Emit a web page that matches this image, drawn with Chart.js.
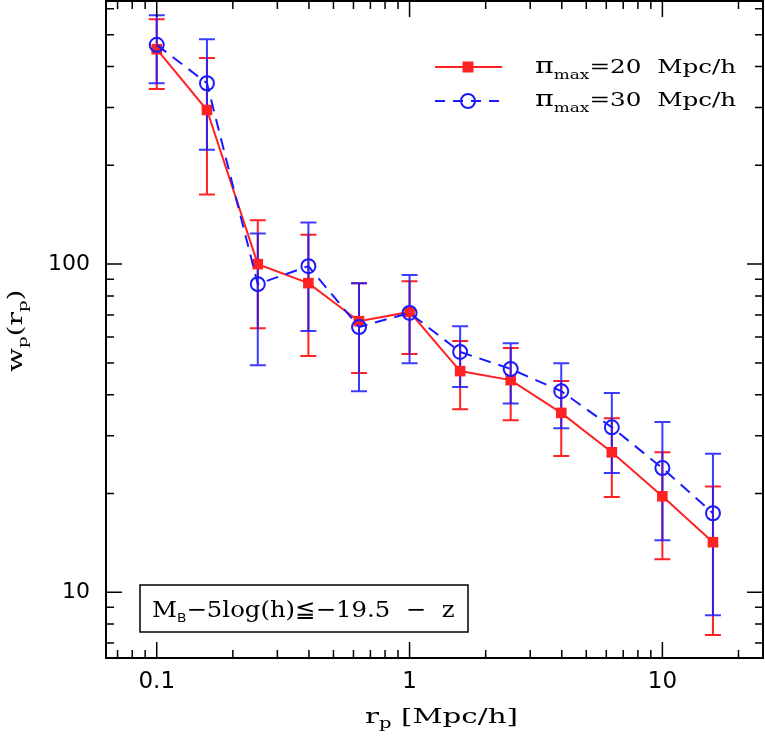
<!DOCTYPE html>
<html>
<head>
<meta charset="utf-8">
<title>w_p(r_p)</title>
<script src="https://cdn.jsdelivr.net/npm/chart.js@4/dist/chart.umd.min.js"></script>
<style>
  html, body { margin: 0; padding: 0; background: #fff; }
  #wrap { position: relative; width: 765px; height: 736px; }
  #chart { position: absolute; left: 0; top: 0; }
  #labels { position: absolute; left: 0; top: 0; pointer-events: none; }
  #labels text { white-space: pre; fill: #000; }
</style>
</head>
<body>
<div id="wrap">
  <canvas id="chart" width="765" height="736"></canvas>
  <svg id="labels" width="765" height="736" xmlns="http://www.w3.org/2000/svg">
    <!-- legend -->
    <text font-family="DejaVu Serif" font-size="19" transform="translate(535,73) scale(1.3,1)"><tspan font-size="22">π</tspan><tspan font-size="13" dy="6">max</tspan><tspan dy="-6">=20  Mpc/h</tspan></text>
    <text font-family="DejaVu Serif" font-size="19" transform="translate(535,106) scale(1.3,1)"><tspan font-size="22">π</tspan><tspan font-size="13" dy="6">max</tspan><tspan dy="-6">=30  Mpc/h</tspan></text>
    <!-- axis titles -->
    <text font-family="DejaVu Serif" font-size="21" transform="translate(365,723) scale(1.4,1)">r<tspan font-size="14" dy="5">p</tspan><tspan dy="-5"> [Mpc/h]</tspan></text>
    <text font-family="DejaVu Serif" font-size="20" transform="translate(22,372) rotate(-90) scale(1.4,1)">w<tspan font-size="13" dy="5">p</tspan><tspan dy="-5">(r</tspan><tspan font-size="13" dy="5">p</tspan><tspan dy="-5">)</tspan></text>
    <!-- sample box -->
    <rect x="140" y="585" width="328" height="47" fill="none" stroke="#000" stroke-width="1.5"/>
    <text font-family="DejaVu Serif" font-size="23" transform="translate(152,617) scale(1.06,1)">M<tspan font-family="DejaVu Sans" font-size="13" dy="5">B</tspan><tspan dy="-5">−5log(h)≦−19.5  −  z</tspan></text>
  </svg>
</div>
<script>
// projected separation bins [Mpc/h]
const rp = [0.1, 0.158, 0.251, 0.398, 0.631, 1.0, 1.585, 2.512, 3.981, 6.31, 10.0, 15.85];

// pi_max = 20 Mpc/h
const wp20   = [452, 295, 100, 87.5, 67, 71.5, 47.2, 44.3, 35.2, 26.7, 19.6, 14.2];
const wp20Hi = [558, 425, 136, 123, 87.5, 88.7, 58.3, 55.5, 44, 33.9, 26.7, 21];
const wp20Lo = [342, 163, 63.8, 52.5, 46.6, 53.2, 36.1, 33.4, 26, 19.5, 12.6, 7.4];

// pi_max = 30 Mpc/h
const wp30   = [466, 356, 86.9, 98.6, 64.3, 71, 54, 47.9, 41, 31.8, 23.9, 17.4];
const wp30Hi = [574, 485, 124, 134, 87.5, 92.6, 64.7, 57.4, 49.9, 40.5, 33, 26.4];
const wp30Lo = [356, 223, 49.2, 62.5, 41, 49.9, 42.2, 37.6, 31.6, 23.1, 14.4, 8.5];

// axis ranges and labelled ticks
const xRange = [0.063, 25];
const yRange = [6.3, 634];
const xTickLabels = [0.1, 1, 10];
const yTickLabels = [10, 100];

const RED = '#ff2222';
const BLUE = '#1a1aff';

function mantissa(v) {
    return v / Math.pow(10, Math.floor(Math.log10(v) + 1e-9));
}
function isWhole(m) {
    return Math.abs(m - Math.round(m)) < 1e-6;
}
function labelFor(list) {
    return v => list.some(t => Math.abs(t - v) / t < 1e-6) ? String(v) : '';
}
// drop the space Chart.js keeps for the end labels
function noEdgePadding(s) {
    s.paddingTop = 0;
    s.paddingBottom = 0;
    s.paddingLeft = 0;
    s.paddingRight = 0;
}

// Vertical error bars with caps, placed through the chart scales
const errorBars = {
    id: 'errorBars',
    beforeDatasetsDraw(chart) {
        const { ctx, scales: { x, y } } = chart;
        const sets = [
            { lo: wp20Lo, hi: wp20Hi, color: RED },
            { lo: wp30Lo, hi: wp30Hi, color: 'rgba(26, 26, 255, 0.85)' }
        ];
        ctx.save();
        ctx.lineWidth = 2;
        sets.forEach(s => {
            ctx.strokeStyle = s.color;
            rp.forEach((r, i) => {
                const px = x.getPixelForValue(r);
                const top = y.getPixelForValue(s.hi[i]);
                const bot = y.getPixelForValue(s.lo[i]);
                ctx.beginPath();
                ctx.moveTo(px, top); ctx.lineTo(px, bot);
                ctx.moveTo(px - 8, top); ctx.lineTo(px + 8, top);
                ctx.moveTo(px - 8, bot); ctx.lineTo(px + 8, bot);
                ctx.stroke();
            });
        });
        ctx.restore();
    }
};

// Frame with inward ticks on all four sides, plus legend samples
const frameTicks = {
    id: 'frameTicks',
    afterDraw(chart) {
        const { ctx, chartArea: a, scales: { x, y } } = chart;
        ctx.save();
        ctx.strokeStyle = '#000';
        ctx.lineWidth = 1.5;
        ctx.beginPath();
        x.ticks.forEach(t => {
            const m = mantissa(t.value);
            if (!isWhole(m)) return;
            const len = Math.round(m) === 1 ? 16 : 8;
            const px = x.getPixelForValue(t.value);
            ctx.moveTo(px, a.bottom); ctx.lineTo(px, a.bottom - len);
            ctx.moveTo(px, a.top); ctx.lineTo(px, a.top + len);
        });
        y.ticks.forEach(t => {
            const m = mantissa(t.value);
            if (!isWhole(m)) return;
            const len = Math.round(m) === 1 ? 16 : 8;
            const py = y.getPixelForValue(t.value);
            ctx.moveTo(a.left, py); ctx.lineTo(a.left + len, py);
            ctx.moveTo(a.right, py); ctx.lineTo(a.right - len, py);
        });
        ctx.stroke();
        ctx.lineWidth = 2;
        ctx.strokeRect(a.left, a.top, a.right - a.left, a.bottom - a.top);

        // legend samples
        ctx.lineWidth = 2;
        ctx.strokeStyle = RED;
        ctx.beginPath(); ctx.moveTo(435, 67); ctx.lineTo(502, 67); ctx.stroke();
        ctx.fillStyle = RED;
        ctx.fillRect(462.5, 61.5, 11, 11);
        ctx.strokeStyle = BLUE;
        ctx.setLineDash([10, 8]);
        ctx.beginPath(); ctx.moveTo(435, 101); ctx.lineTo(502, 101); ctx.stroke();
        ctx.setLineDash([]);
        ctx.beginPath(); ctx.arc(468, 101, 7, 0, Math.PI * 2); ctx.stroke();
        ctx.restore();
    }
};

new Chart(document.getElementById('chart'), {
    type: 'line',
    data: {
        datasets: [
            {
                label: 'pi_max=30 Mpc/h',
                data: rp.map((r, i) => ({ x: r, y: wp30[i] })),
                borderColor: BLUE,
                borderWidth: 2,
                borderDash: [12, 8],
                pointStyle: 'circle',
                pointRadius: 7,
                pointBorderWidth: 2,
                pointBorderColor: BLUE,
                pointBackgroundColor: 'rgba(0,0,0,0)',
                order: 0
            },
            {
                label: 'pi_max=20 Mpc/h',
                data: rp.map((r, i) => ({ x: r, y: wp20[i] })),
                borderColor: RED,
                borderWidth: 2,
                pointStyle: 'rect',
                pointRadius: 7.5,
                pointBorderWidth: 0,
                pointBackgroundColor: RED,
                order: 1
            }
        ]
    },
    options: {
        responsive: false,
        devicePixelRatio: 1,
        animation: false,
        layout: { autoPadding: false, padding: { left: 0, top: 1, right: 2, bottom: 0 } },
        plugins: {
            legend: { display: false },
            tooltip: { enabled: false }
        },
        scales: {
            x: {
                type: 'logarithmic',
                min: xRange[0],
                max: xRange[1],
                afterFit: s => { s.height = 78; noEdgePadding(s); },
                grid: { display: false, drawTicks: false, tickLength: 0 },
                border: { display: false },
                ticks: {
                    autoSkip: false,
                    maxRotation: 0,
                    padding: 10,
                    color: '#000',
                    font: { family: 'DejaVu Sans', size: 23 },
                    callback: labelFor(xTickLabels)
                }
            },
            y: {
                type: 'logarithmic',
                min: yRange[0],
                max: yRange[1],
                afterFit: s => { s.width = 106; noEdgePadding(s); },
                grid: { display: false, drawTicks: false, tickLength: 0 },
                border: { display: false },
                ticks: {
                    autoSkip: false,
                    padding: 16,
                    color: '#000',
                    font: { family: 'DejaVu Sans', size: 22 },
                    callback: labelFor(yTickLabels)
                }
            }
        }
    },
    plugins: [errorBars, frameTicks]
});
</script>
</body>
</html>
